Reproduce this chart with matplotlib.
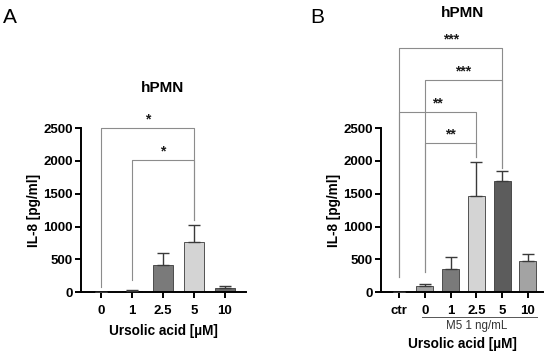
import matplotlib
matplotlib.use("Agg")
import matplotlib.pyplot as plt

# panel A data
cats_a = ["0", "1", "2.5", "5", "10"]
means_a = [0, 20, 410, 760, 60]
errs_a = [0, 20, 180, 260, 40]
colors_a = ["#7a7a7a", "#7a7a7a", "#7a7a7a", "#d4d4d4", "#6a6a6a"]
# brackets: (from, to, level, stars)
brackets_a = [(0, 3, 2500, "*"), (1, 3, 2010, "*")]

# panel B data
cats_b = ["ctr", "0", "1", "2.5", "5", "10"]
means_b = [0, 90, 350, 1460, 1700, 470]
errs_b = [0, 40, 180, 520, 140, 110]
colors_b = ["#a0a0a0", "#a3a3a3", "#7a7a7a", "#d4d4d4", "#5c5c5c", "#a3a3a3"]
brackets_b = [(0, 4, 3720, "***"), (1, 4, 3230, "***"),
              (0, 3, 2740, "**"), (1, 3, 2270, "**")]

plt.rcParams['font.family'] = ['Liberation Sans', 'DejaVu Sans']

fig = plt.figure(figsize=(5.5, 3.55), dpi=100, facecolor='white')
ax_a = fig.add_axes([0.147, 0.177, 0.300, 0.462])
ax_b = fig.add_axes([0.693, 0.177, 0.294, 0.462])


def draw_panel(ax, cats, means, errs, colors, brackets, width, xlim, legs, ylab_x):
    x = list(range(len(cats)))
    ax.bar(x, means, width, color=colors, edgecolor='#3a3a3a', linewidth=0.6, zorder=2)
    ax.errorbar(x, means, yerr=[[0] * len(errs), errs], fmt='none',
                ecolor='#3a3a3a', elinewidth=1.0, capsize=4, capthick=1.0, zorder=3)
    ax.set_xlim(*xlim)
    ax.set_ylim(0, 2500)
    ax.set_yticks([0, 500, 1000, 1500, 2000, 2500])
    ax.set_xticks(x)
    ax.set_xticklabels(cats)
    for s in ['top', 'right']:
        ax.spines[s].set_visible(False)
    for s in ['left', 'bottom']:
        ax.spines[s].set_linewidth(1.4)
    ax.tick_params(axis='both', width=1.4, length=4, labelsize=9.5, pad=2)
    ax.tick_params(axis='x', pad=5)
    for lbl in ax.get_xticklabels() + ax.get_yticklabels():
        lbl.set_fontweight('bold')
    ax.set_ylabel('IL-8 [pg/ml]', fontsize=9.8, fontweight='bold')
    ax.yaxis.set_label_coords(ylab_x, 0.5)

    for (i, j, lvl, stars) in brackets:
        lo_i, lo_j = legs[(i, j)]
        ax.plot([i, i, j, j], [lo_i, lvl, lvl, lo_j], color='#8c8c8c',
                linewidth=0.8, clip_on=False, zorder=1)
        ax.text((i + j) / 2, lvl + 30, stars, ha='center', va='bottom',
                fontsize=10, fontweight='bold', color='#1a1a1a')


legs_a = {(0, 3): (80, 1100), (1, 3): (180, 1100)}
draw_panel(ax_a, cats_a, means_a, errs_a, colors_a, brackets_a, 0.65,
           (-0.65, 4.68), legs_a, -0.24)
ax_a.set_xlabel('Ursolic acid [µM]', fontsize=9.8, fontweight='bold')
ax_a.xaxis.set_label_coords(0.5, -0.195)

legs_b = {(0, 4): (230, 1900), (1, 4): (300, 1900),
          (0, 3): (230, 2060), (1, 3): (300, 2060)}
draw_panel(ax_b, cats_b, means_b, errs_b, colors_b, brackets_b, 0.66,
           (-0.70, 5.58), legs_b, -0.25)
ax_b.set_xlabel('Ursolic acid [µM]', fontsize=9.8, fontweight='bold')
ax_b.xaxis.set_label_coords(0.5, -0.275)

# titles placed in figure coordinates
fig.text(163 / 550, 1 - 88 / 355, 'hPMN', fontsize=11, fontweight='bold',
         ha='center', va='center')
fig.text(463 / 550, 1 - 13 / 355, 'hPMN', fontsize=11, fontweight='bold',
         ha='center', va='center')

# group line under B
tr = ax_b.get_xaxis_transform()
ax_b.plot([0.9, 5.34], [-0.152, -0.152], color='#555555', linewidth=0.7,
          transform=tr, clip_on=False)
ax_b.text(3.0, -0.168, 'M5 1 ng/mL', transform=tr, ha='center', va='top',
          fontsize=8.3, color='#333333')

fig.text(0.006, 0.95, 'A', fontsize=15, ha='left', va='center')
fig.text(0.565, 0.95, 'B', fontsize=15, ha='left', va='center')

fig.savefig('out.png', dpi=100, facecolor='white')
